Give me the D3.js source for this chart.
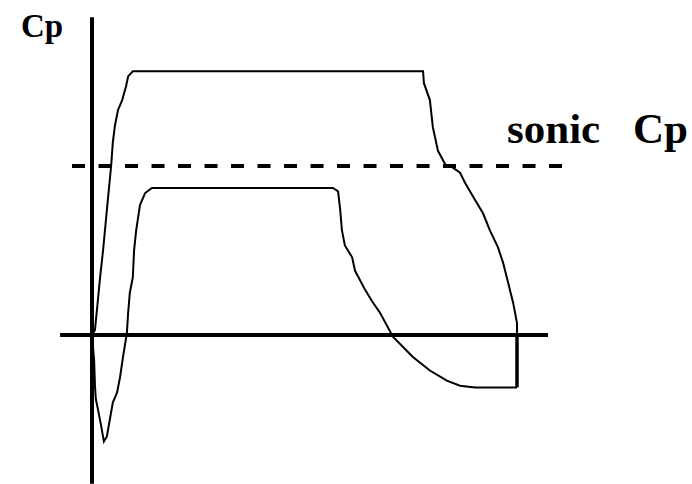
<!DOCTYPE html>
<html>
<head>
<meta charset="utf-8">
<script src="https://cdn.jsdelivr.net/npm/d3@7"></script>
<style>
  html, body { margin: 0; padding: 0; background: #fff; }
  svg { display: block; }
  .lbl { font-family: "Liberation Serif", "Times New Roman", serif; font-weight: bold; fill: #000; }
</style>
</head>
<body>
<svg id="chart" width="692" height="484"></svg>
<script>
// chord position (%) and Cp values
const upperX = [0, 0.7, 1.4, 1.9, 2.6, 3.5, 4.5, 4.9, 5.4, 6.1, 7.1, 8.0, 8.5, 9.6, 77.9, 78.1, 79.5, 80.2, 81.4, 83.1, 84.9, 86.6, 87.8, 90.1, 92.0, 93.6, 95.5, 96.7, 97.9, 99.1, 100, 100];
const upperY = [0, 0.03, 0.21, 0.34, 0.50, 0.74, 1.00, 1.14, 1.24, 1.33, 1.39, 1.47, 1.53, 1.56, 1.56, 1.49, 1.39, 1.23, 1.09, 1.01, 0.99, 0.96, 0.90, 0.80, 0.72, 0.62, 0.52, 0.43, 0.31, 0.19, 0.07, 0];

const lowerX = [0, 0.5, 0.7, 0.9, 1.4, 2.1, 2.8, 3.5, 4.2, 4.9, 5.9, 6.6, 7.3, 8.2, 8.5, 8.9, 9.6, 9.9, 10.4, 11.3, 12.5, 14.1, 56.7, 57.9, 58.4, 58.8, 59.5, 61.2, 61.9, 64.2, 65.9, 67.8, 70.8, 75.5, 79.5, 83.5, 86.6, 90.1, 100];
const lowerY = [0, -0.15, -0.30, -0.38, -0.44, -0.53, -0.63, -0.60, -0.50, -0.40, -0.34, -0.25, -0.13, 0.01, 0.13, 0.25, 0.34, 0.50, 0.62, 0.77, 0.84, 0.87, 0.87, 0.85, 0.74, 0.62, 0.53, 0.46, 0.38, 0.27, 0.20, 0.13, -0.01, -0.13, -0.21, -0.27, -0.30, -0.31, -0.31];

// trailing edge: upper curve drops from the axis to the lower surface end
const trailingX = 100;
const trailingY = [0, -0.31];

const sonicCp = 1;
const xAxisExtent = [-7.5, 107.3];
const yAxisExtent = [-0.88, 1.88];
const sonicExtent = [-4.7, 110.6];

const svg = d3.select("#chart");

const x = d3.scaleLinear().domain([0, 100]).range([92, 517]);
const y = d3.scaleLinear().domain([0, 1]).range([335, 166]);

const line = d3.line()
    .x(d => x(d[0]))
    .y(d => y(d[1]));

// axes
svg.append("line")
    .attr("x1", x(0)).attr("x2", x(0))
    .attr("y1", y(yAxisExtent[1])).attr("y2", y(yAxisExtent[0]))
    .attr("stroke", "#000").attr("stroke-width", 4);

svg.append("line")
    .attr("x1", x(xAxisExtent[0])).attr("x2", x(xAxisExtent[1]))
    .attr("y1", y(0)).attr("y2", y(0))
    .attr("stroke", "#000").attr("stroke-width", 4);

// sonic Cp dashed line
svg.append("line")
    .attr("x1", x(sonicExtent[0])).attr("x2", x(sonicExtent[1]))
    .attr("y1", y(sonicCp)).attr("y2", y(sonicCp))
    .attr("stroke", "#000").attr("stroke-width", 4)
    .attr("stroke-dasharray", "13,13.5");

// pressure curves
svg.append("path")
    .datum(d3.zip(upperX, upperY))
    .attr("d", line)
    .attr("fill", "none").attr("stroke", "#000").attr("stroke-width", 2);

svg.append("path")
    .datum(d3.zip(lowerX, lowerY))
    .attr("d", line)
    .attr("fill", "none").attr("stroke", "#000").attr("stroke-width", 2);

svg.append("line")
    .attr("x1", x(trailingX)).attr("x2", x(trailingX))
    .attr("y1", y(trailingY[0])).attr("y2", y(trailingY[1]))
    .attr("stroke", "#000").attr("stroke-width", 3.5);

// labels
svg.append("text").attr("class", "lbl")
    .attr("x", 21).attr("y", 37)
    .style("font-size", "33px")
    .text("Cp");

svg.append("text").attr("class", "lbl")
    .attr("x", 507).attr("y", 143)
    .style("font-size", "43px")
    .text("sonic");

svg.append("text").attr("class", "lbl")
    .attr("x", 633).attr("y", 143)
    .style("font-size", "43px")
    .text("Cp");
</script>
</body>
</html>
